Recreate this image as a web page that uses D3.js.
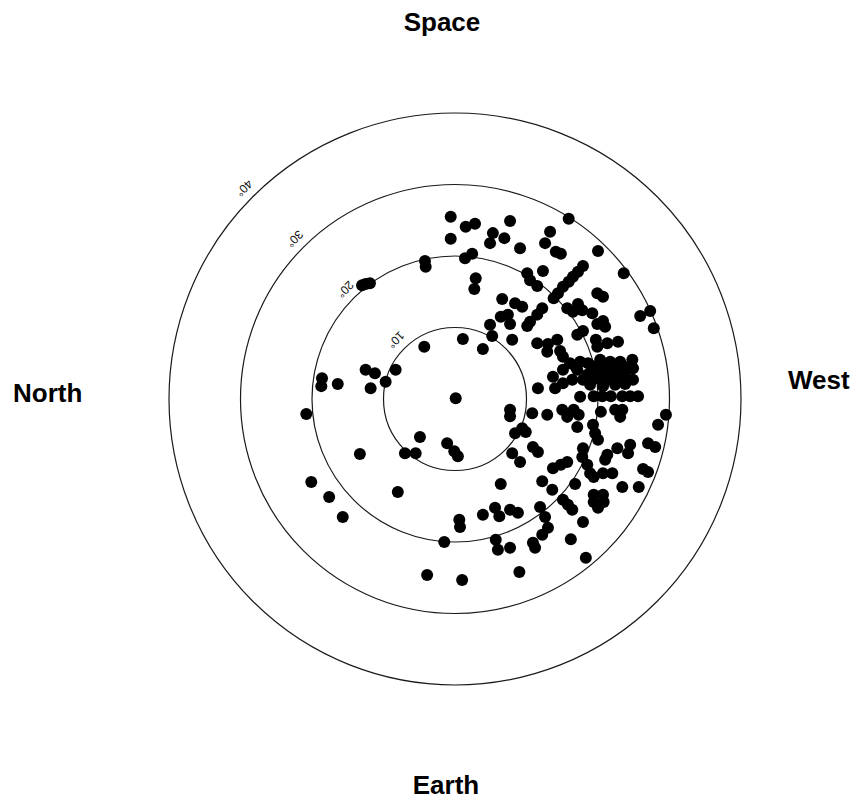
<!DOCTYPE html>
<html>
<head>
<meta charset="utf-8">
<script src="https://cdn.jsdelivr.net/npm/d3@7"></script>
<style>
body { margin: 0; background: #fff; }
</style>
</head>
<body>
<div id="chart"></div>
<script>
const WIDTH = 861;
const HEIGHT = 799;
const CENTER = { X: 455, Y: 399 };
const R_MAX = 286;

const rings = [10, 20, 30, 40];
const ringLabels = ["10°", "20°", "30°", "40°"];
const directions = ["Space", "West", "Earth", "North"];

// each dot: [degrees toward West, degrees toward Space]
const dots = [
    [-0.6, 25.5], [-0.6, 22.4], [1.5, 24.1], [2.8, 24.5], [7.7, 24.9], [5.3, 23.2], [4.9, 21.8], [6.9, 22.5],
    [9.1, 21.1], [13.3, 23.4], [12.6, 21.8], [14.1, 20.6], [14.8, 20.3], [15.9, 25.2], [20.0, 20.7], [23.6, 17.6],
    [1.4, 19.7], [2.4, 20.3], [-4.2, 19.3], [-4.1, 18.5], [-13.0, 15.9], [-12.5, 16.1], [-11.9, 16.2], [12.3, 17.9],
    [10.1, 17.6], [10.5, 16.6], [11.5, 15.8], [2.9, 16.9], [2.7, 15.4], [17.9, 18.6], [17.2, 17.8], [16.5, 17.1],
    [15.9, 16.4], [15.1, 15.7], [14.4, 14.8], [13.8, 14.1], [19.9, 14.8], [20.7, 14.3], [6.6, 14.0], [8.4, 13.4],
    [9.4, 12.9], [15.7, 12.7], [16.5, 12.2], [17.2, 13.3], [17.8, 12.4], [19.2, 12.0], [12.2, 12.7], [11.5, 11.8],
    [10.5, 10.8], [10.1, 10.2], [6.4, 11.5], [7.4, 11.8], [7.7, 10.5], [4.9, 10.4], [5.2, 8.8], [1.1, 8.4],
    [3.9, 7.0], [8.0, 8.3], [25.9, 11.6], [27.3, 12.3], [27.8, 9.9], [19.9, 10.5], [20.7, 10.9], [21.0, 10.1],
    [17.1, 9.0], [17.9, 9.5], [19.7, 8.3], [19.9, 7.3], [21.3, 7.8], [22.8, 8.0], [11.5, 7.8], [13.0, 7.7],
    [14.3, 8.3], [12.9, 6.6], [14.7, 6.7], [15.1, 5.9], [16.1, 5.0], [17.5, 5.2], [18.6, 5.0], [20.3, 5.5],
    [21.7, 5.2], [23.1, 5.2], [24.8, 5.5], [15.1, 4.1], [17.1, 4.1], [19.9, 4.1], [21.3, 4.1], [22.7, 4.1],
    [24.1, 4.1], [13.7, 3.1], [16.4, 2.7], [17.9, 2.7], [19.9, 2.9], [21.3, 2.7], [22.7, 2.7], [24.1, 2.7],
    [24.9, 2.7], [18.9, 2.0], [20.7, 1.8], [22.4, 2.0], [23.8, 2.1], [11.6, 1.5], [14.0, 1.5], [17.5, 0.3],
    [19.4, 0.4], [20.6, 0.4], [21.8, 0.4], [23.4, 0.4], [24.5, 0.4], [25.6, 0.4], [0.1, 0.1], [7.7, -1.5],
    [16.8, 4.6], [19.2, 4.6], [20.7, 4.8], [22.1, 4.6], [23.5, 4.6], [24.9, 4.3], [18.5, 3.4], [20.6, 3.4],
    [22.0, 3.4], [23.4, 3.4], [15.1, 2.2],
    [7.7, -2.4], [10.8, -2.0], [12.9, -2.2], [15.0, -1.5], [15.7, -2.5], [16.6, -1.5], [17.3, -2.2], [20.4, -1.8],
    [22.4, -1.5], [23.1, -2.5], [23.4, -1.5], [29.5, -2.2], [28.4, -3.6], [-1.1, -6.2], [-0.1, -7.3], [0.4, -8.0],
    [8.4, -4.8], [9.4, -4.1], [9.9, -4.6], [17.1, -3.9], [19.3, -3.6], [19.6, -4.8], [20.0, -5.7], [17.9, -6.9],
    [17.8, -8.1], [18.5, -9.2], [18.9, -10.4], [19.4, -10.9], [20.7, -10.4], [21.0, -8.5], [21.3, -7.8], [22.0, -10.4],
    [22.7, -6.9], [24.5, -6.4], [24.2, -7.6], [27.0, -6.2], [28.0, -6.7], [26.3, -9.8], [27.0, -10.2], [23.4, -12.3],
    [25.7, -12.3], [8.0, -7.6], [9.1, -8.8], [10.9, -6.7], [11.6, -7.4], [13.7, -9.7], [14.8, -9.2], [15.7, -8.8],
    [6.4, -11.9], [12.2, -11.5], [13.6, -12.7], [16.8, -11.9], [15.1, -14.1], [15.8, -14.8], [16.4, -15.5], [19.4, -13.4],
    [20.7, -13.4], [19.4, -14.4], [20.8, -14.4], [20.0, -15.2], [17.9, -17.2], [11.9, -15.1], [12.6, -16.5], [0.6, -16.9],
    [0.7, -17.9], [3.9, -16.2], [5.6, -15.2], [6.2, -16.4], [7.7, -15.5], [8.8, -15.9], [-1.5, -20.0], [5.7, -19.7],
    [6.0, -21.1], [7.7, -20.8], [13.0, -18.0], [12.2, -19.0], [10.9, -20.1], [11.2, -20.8], [16.2, -19.6], [18.3, -22.2],
    [9.0, -24.2], [1.0, -25.3], [-3.9, -24.6], [-4.3, 7.3], [-8.3, 4.1], [-12.5, 4.1], [-11.2, 3.6], [-9.7, 2.4],
    [-11.8, 1.5], [-18.6, 2.9], [-18.7, 1.8], [-16.4, 2.1], [-20.8, -2.1], [-4.9, -5.3], [-7.0, -7.6], [-5.5, -7.6],
    [-13.3, -7.7], [-20.1, -11.6], [-17.6, -13.7], [-8.0, -13.0], [-15.7, -16.5]
];

const x = d3.scaleLinear().domain([-40, 40]).range([CENTER.X - R_MAX, CENTER.X + R_MAX]);
const y = d3.scaleLinear().domain([-40, 40]).range([CENTER.Y + R_MAX, CENTER.Y - R_MAX]);
const r = d3.scaleLinear().domain([0, 40]).range([0, R_MAX]);

const svg = d3.select("#chart")
    .append("svg")
    .attr("width", WIDTH)
    .attr("height", HEIGHT)
    .style("font-family", "'Liberation Sans', Arial, sans-serif");

// rings
svg.append("g")
    .selectAll("circle")
    .data(rings)
    .join("circle")
    .attr("cx", x(0))
    .attr("cy", y(0))
    .attr("r", d => r(d))
    .attr("fill", "none")
    .attr("stroke", "#1a1a1a")
    .attr("stroke-width", 1.2);

// ring labels, upper-left diagonal, upside down
const LABEL_ANGLE = 135 * Math.PI / 180;
svg.append("g")
    .selectAll("text")
    .data(rings)
    .join("text")
    .attr("transform", d => {
        const dist = r(d) + 12;
        const tx = x(0) + dist * Math.cos(LABEL_ANGLE);
        const ty = y(0) - dist * Math.sin(LABEL_ANGLE);
        return `translate(${tx},${ty}) rotate(135)`;
    })
    .attr("text-anchor", "middle")
    .attr("dy", "0.35em")
    .attr("font-size", 12)
    .attr("fill", "#111")
    .text((d, i) => ringLabels[i]);

// dots
svg.append("g")
    .selectAll("circle")
    .data(dots)
    .join("circle")
    .attr("cx", d => x(d[0]))
    .attr("cy", d => y(d[1]))
    .attr("r", 6)
    .attr("fill", "#000");

// direction labels
const dirPos = [
    { x: x(0) - 13, y: 31, anchor: "middle" },
    { x: 788, y: 389, anchor: "start" },
    { x: x(0) - 9, y: 794, anchor: "middle" },
    { x: 13, y: 402, anchor: "start" },
];
svg.append("g")
    .selectAll("text")
    .data(directions)
    .join("text")
    .attr("x", (d, i) => dirPos[i].x)
    .attr("y", (d, i) => dirPos[i].y)
    .attr("text-anchor", (d, i) => dirPos[i].anchor)
    .attr("font-size", 26)
    .attr("font-weight", "bold")
    .attr("fill", "#000")
    .text(d => d);
</script>
</body>
</html>
